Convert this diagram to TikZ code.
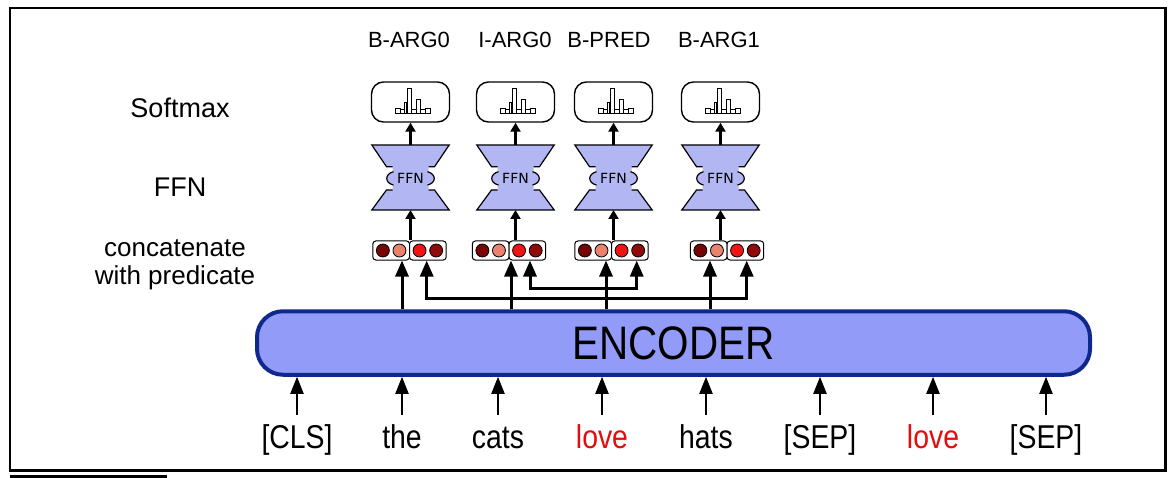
\documentclass[tikz,border=0pt]{standalone}
\usepackage{fontspec}
\setmainfont{Liberation Sans}
\newfontfamily\dejavu{DejaVu Sans}
\newfontfamily\narrowfont[FakeStretch=0.86]{Liberation Sans}
\usetikzlibrary{arrows.meta}
\definecolor{encfill}{RGB}{147,155,248}
\definecolor{encdraw}{RGB}{14,40,140}
\definecolor{ffnfill}{RGB}{178,182,242}
\definecolor{cA}{RGB}{120,5,5}
\definecolor{cB}{RGB}{235,130,110}
\definecolor{cC}{RGB}{240,20,20}
\definecolor{cD}{RGB}{145,10,10}
\definecolor{lovered}{RGB}{228,12,12}
\begin{document}
\begin{tikzpicture}[x=1pt,y=-1pt,
  taglbl/.style={font=\fontsize{22}{26}\selectfont, anchor=base, inner sep=0},
  sidelbl/.style={font=\fontsize{27}{30}\selectfont, anchor=base, inner sep=0},
  toklbl/.style={font=\narrowfont\fontsize{33}{36}\selectfont, anchor=base, inner sep=0, text height=24pt, text depth=7pt},
  smbox/.style={draw, line width=1.4pt, rounded corners=12pt, minimum width=78pt, minimum height=40pt, inner sep=0},
  halfbox/.style={draw, line width=1pt, rounded corners=3pt, minimum width=36.7pt, minimum height=19pt, inner sep=0, fill=white},
  ball/.style={circle, draw, line width=0.8pt, minimum size=13pt, inner sep=0},
  bigarr/.style={line width=3pt, -{Triangle[length=16pt,width=13pt]}},
  bothbig/.style={line width=3pt, {Triangle[length=16pt,width=13pt]}-{Triangle[length=16pt,width=13pt]}},
  shortarr/.style={line width=3pt, -{Triangle[length=9pt,width=10pt]}},
  inarr/.style={line width=2pt, -{Triangle[length=17pt,width=13pt]}},
  ffnline/.style={line width=1.2pt},
  bar/.style={draw, fill=white, line width=0.7pt},
]
\useasboundingbox (0,0) rectangle (1174,478);
% frame and rule
\draw[line width=2.2pt] (10,8) rectangle (1165.5,470.5);
\draw[line width=3pt] (10,476.5) -- (167,476.5);

% encoder
\node[draw=encdraw, fill=encfill, line width=4pt, rounded corners=26pt,
      minimum width=833pt, minimum height=63.5pt, inner sep=0,
      font=\narrowfont\fontsize{47}{50}\selectfont] (enc) at (673.5,343) {ENCODER};

% tokens
\node[toklbl] (t1) at (297,448) {[CLS]};
\node[toklbl] (t2) at (402,448) {the};
\node[toklbl] (t3) at (498,448) {cats};
\node[toklbl, text=lovered] (t4) at (602,448) {love};
\node[toklbl] (t5) at (706,448) {hats};
\node[toklbl] (t6) at (820,448) {[SEP]};
\node[toklbl, text=lovered] (t7) at (933,448) {love};
\node[toklbl] (t8) at (1046,448) {[SEP]};
\foreach \i in {1,...,8}{
  \draw[inarr] ([yshift=9pt]t\i.north) -- (t\i.north |- enc.south);
}

% side labels
\node[sidelbl] (lsm) at (180,118) {Softmax};
\node[sidelbl] (lffn) at (180,197) {FFN};
\node[sidelbl, font=\fontsize{26}{28}\selectfont, align=center] (lcat) at (175,284) {concatenate\\with predicate};

% top tags
\node[taglbl] (g1) at (409,48) {B-ARG0};
\node[taglbl] (g2) at (515,48) {I-ARG0};
\node[taglbl] (g3) at (609,48) {B-PRED};
\node[taglbl] (g4) at (719,48) {B-ARG1};

% softmax boxes, FFN blocks, concat boxes
\foreach \i/\cx/\mx in {1/410.5/409.5, 2/515.5/509, 3/613.5/611.5, 4/720.5/727}{
  % softmax
  \node[smbox] (s\i) at (\cx,102) {};
  \begin{scope}[shift={(\cx,102)}]
    \draw[bar] (-15,11.3) rectangle (-10.3,6.3);
    \draw[bar] (-10.3,11.3) rectangle (-6,7.3);
    \draw[bar] (-6,11.3) rectangle (-4.3,0.3);
    \draw[bar] (-2.7,11.3) rectangle (1.3,-13.7);
    \draw[bar] (1.3,11.3) rectangle (5.7,7.3);
    \draw[bar] (5.7,11.3) rectangle (10,-2.7);
    \draw[bar] (10,11.3) rectangle (15,7.8);
    \draw[bar] (15,11.3) rectangle (19.7,6.3);
  \end{scope}
  % FFN
  \begin{scope}[shift={(\cx,0)}]
    \fill[ffnfill] (-38.7,145) -- (38.7,145) -- (24,166.7) -- (18,166.7) -- (18,171.7)
      .. controls (26,174) and (26,183) .. (18,185) -- (18,190) -- (24,190) -- (38.7,210)
      -- (-38.7,210) -- (-24,190) -- (-18,190) -- (-18,185)
      .. controls (-26,183) and (-26,174) .. (-18,171.7) -- (-18,166.7) -- (-24,166.7) -- cycle;
    \draw[ffnline] (-18,166.7) -- (-24,166.7) -- (-38.7,145) -- (38.7,145) -- (24,166.7) -- (18,166.7);
    \draw[ffnline] (-18,190) -- (-24,190) -- (-38.7,210) -- (38.7,210) -- (24,190) -- (18,190);
    \draw[ffnline] (-17,171.7) .. controls (-26,174) and (-26,183) .. (-17,185);
    \draw[ffnline] (17,171.7) .. controls (26,174) and (26,183) .. (17,185);
    \node[font=\dejavu\fontsize{14}{16}\selectfont, inner sep=0] (f\i) at (0,178) {FFN};
    \coordinate (ft\i) at (0,145);
    \coordinate (fb\i) at (0,210);
  \end{scope}
  \draw[shortarr] (ft\i) -- (ft\i |- s\i.south);
  % concat
  \node[halfbox] (c\i L) at (\mx-18.35,250.5) {};
  \node[halfbox] (c\i R) at (\mx+18.35,250.5) {};
  \node[ball, fill=cA] (d\i a) at ([xshift=-8.3pt]c\i L.center) {};
  \node[ball, fill=cB] (d\i b) at ([xshift=8.3pt]c\i L.center) {};
  \node[ball, fill=cC] (d\i c) at ([xshift=-8.3pt]c\i R.center) {};
  \node[ball, fill=cD] (d\i d) at ([xshift=8.3pt]c\i R.center) {};
  \draw[shortarr] (fb\i |- c\i L.north) -- (fb\i);
}

% encoder outputs to concat
\coordinate (a1) at (402,260.5);
\coordinate (a2) at (511,260.5);
\coordinate (a3) at (606,260.5);
\coordinate (a4) at (710,260.5);
\foreach \i in {1,...,4}{
  \draw[bigarr] (enc.north -| a\i) -- (a\i);
}
% predicate routing
\coordinate (p1) at (426.7,260.5);
\coordinate (p2) at (530,260.5);
\coordinate (p3) at (636.7,260.5);
\coordinate (p4) at (746.7,260.5);
\coordinate (h1) at (0,298.3);
\coordinate (h2) at (0,288.3);
\draw[bothbig] (p1) -- (p1 |- h1) -- (p4 |- h1) -- (p4);
\draw[bothbig] (p2) -- (p2 |- h2) -- (p3 |- h2) -- (p3);
\end{tikzpicture}
\end{document}
